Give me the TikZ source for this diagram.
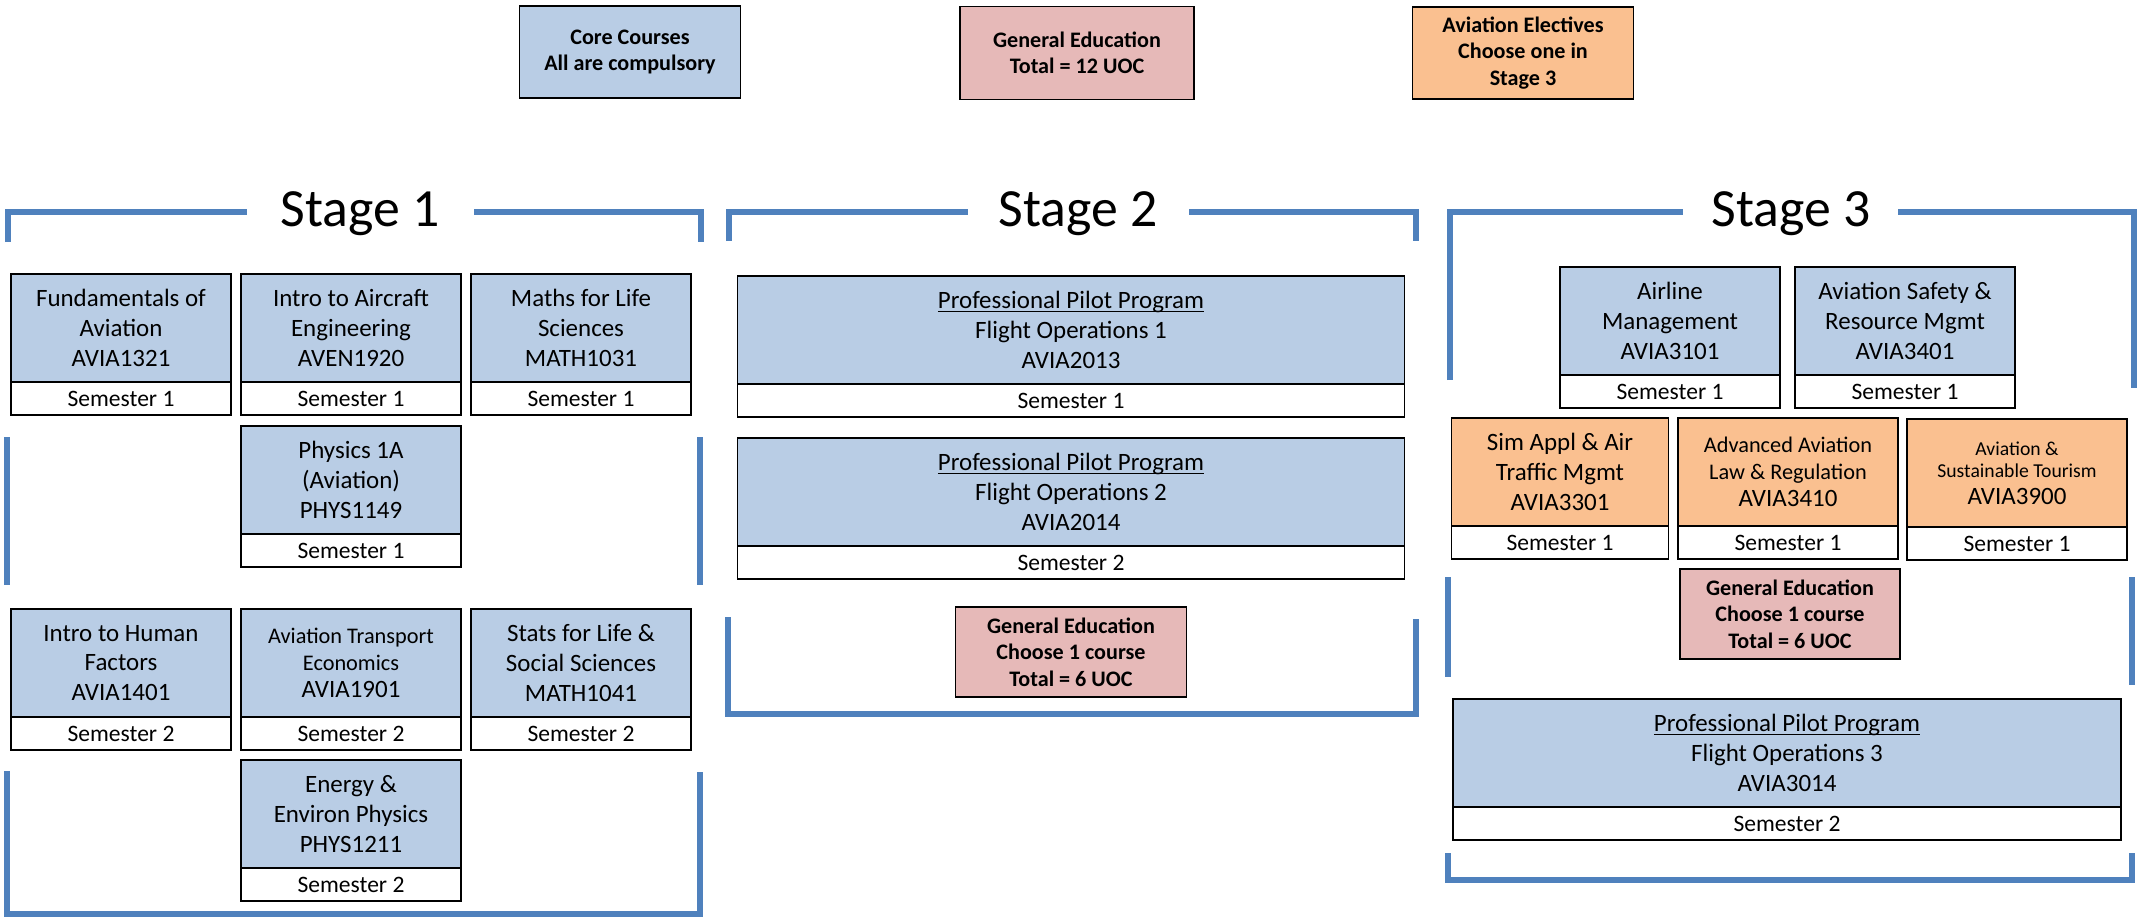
\documentclass[tikz,border=0pt]{standalone}
\usepackage{fontspec}
\setmainfont{Carlito}
\usetikzlibrary{positioning}

\definecolor{coreblue}{HTML}{B9CDE5}
\definecolor{genpink}{HTML}{E6B9B8}
\definecolor{electorange}{HTML}{FAC090}
\definecolor{bracketblue}{HTML}{4F81BD}

\newcommand{\coursefont}{\fontsize{14.2}{17}\selectfont}
\newcommand{\smallcourse}{\fontsize{12.7}{15.3}\selectfont}
\newcommand{\tinycourse}{\fontsize{11.2}{13}\selectfont}
\newcommand{\semfont}{\fontsize{13.4}{15}\selectfont}
\newcommand{\genfont}{\fontsize{12.6}{15}\selectfont\bfseries}
\newcommand{\titlefont}{\fontsize{30.6}{36}\selectfont}
% word-style underline, close to the baseline
\newcommand{\pppline}[1]{\setbox0\hbox{#1}\rlap{\rule[-1.7pt]{\wd0}{0.55pt}}\box0}

\tikzset{
  box/.style={draw, line width=1pt, align=center, inner sep=0pt, outer sep=0pt},
  core/.style={box, fill=coreblue, minimum width=4.4cm, minimum height=2.16cm, font=\coursefont},
  elective/.style={core, fill=electorange},
  sem/.style={box, fill=white, minimum width=#1, minimum height=0.66cm, font=\semfont},
  sem/.default=4.4cm,
  gened/.style={box, fill=genpink, minimum width=4.4cm, minimum height=1.8cm, font=\genfont},
  legend/.style={box, minimum width=4.42cm, minimum height=1.84cm, font=\genfont},
  bracket/.style={bracketblue, line width=3.3pt},
  stage/.style={font=\titlefont, anchor=base}
}

\begin{document}
\begin{tikzpicture}[x=0.02cm, y=-0.02cm]
  \useasboundingbox (0,0) rectangle (2140,917);

  % key
  \node[legend, fill=coreblue] (keycore) at (630,52) {Core Courses\\All are compulsory};
  \node[legend, fill=genpink, minimum width=4.68cm, minimum height=1.86cm] (keygen) at (1077,53) {General Education\\Total = 12 UOC};
  \node[legend, fill=electorange] (keyelect) at (1523,53) {Aviation Electives\\Choose one in\\Stage 3};

  % stage frames
  \node[stage] (st1) at (360,226) {Stage 1};
  \node[stage] (st2) at (1078,226) {Stage 2};
  \node[stage] (st3) at (1791,226) {Stage 3};
  \draw[bracket] (8,242) |- (247,212);
  \draw[bracket] (474,212) -| (701,242);
  \draw[bracket] (7,437) -- (7,585);
  \draw[bracket] (700,437) -- (700,585);
  \draw[bracket] (7,771) |- (700,914) -- (700,772);
  \draw[bracket] (729,241) |- (968,212);
  \draw[bracket] (1189,212) -| (1416,241);
  \draw[bracket] (728,617) |- (1416,714) -- (1416,619);
  \draw[bracket] (1450,380) |- (1683,212);
  \draw[bracket] (1898,212) -| (2134,388);
  \draw[bracket] (1448,577) -- (1448,677);
  \draw[bracket] (2132,577) -- (2132,685);
  \draw[bracket] (1448,853) |- (2132,880) -- (2132,853);

  % stage 1
  \node[core] (fund) at (121,328) {Fundamentals of\\Aviation\\AVIA1321};
  \node[sem, below=0pt of fund] (fund-sem) {Semester 1};
  \node[core] (aircraft) at (351,328) {Intro to Aircraft\\Engineering\\AVEN1920};
  \node[sem, below=0pt of aircraft] (aircraft-sem) {Semester 1};
  \node[core] (maths) at (581,328) {Maths for Life\\Sciences\\MATH1031};
  \node[sem, below=0pt of maths] (maths-sem) {Semester 1};
  \node[core] (phys) at (351,480) {Physics 1A\\(Aviation)\\PHYS1149};
  \node[sem, below=0pt of phys] (phys-sem) {Semester 1};
  \node[core] (human) at (121,663) {Intro to Human\\Factors\\AVIA1401};
  \node[sem, below=0pt of human] (human-sem) {Semester 2};
  \node[core, font=\smallcourse] (transport) at (351,663) {Aviation Transport\\Economics\\{\coursefont AVIA1901}};
  \node[sem, below=0pt of transport] (transport-sem) {Semester 2};
  \node[core] (stats) at (581,663) {Stats for Life \&\\Social Sciences\\MATH1041};
  \node[sem, below=0pt of stats] (stats-sem) {Semester 2};
  \node[core] (energy) at (351,814) {Energy \&\\Environ Physics\\PHYS1211};
  \node[sem, below=0pt of energy] (energy-sem) {Semester 2};

  % stage 2
  \node[core, minimum width=13.34cm] (ppp1) at (1071,330) {\pppline{Professional Pilot Program}\\Flight Operations 1\\AVIA2013};
  \node[sem=13.34cm, below=0pt of ppp1] (ppp1-sem) {Semester 1};
  \node[core, minimum width=13.34cm] (ppp2) at (1071,492) {\pppline{Professional Pilot Program}\\Flight Operations 2\\AVIA2014};
  \node[sem=13.34cm, below=0pt of ppp2] (ppp2-sem) {Semester 2};
  \node[gened, minimum width=4.62cm] (gen2) at (1071,652) {General Education\\Choose 1 course\\Total = 6 UOC};

  % stage 3
  \node[core] (airline) at (1670,321) {Airline\\Management\\AVIA3101};
  \node[sem, below=0pt of airline] (airline-sem) {Semester 1};
  \node[core] (safety) at (1905,321) {Aviation Safety \&\\Resource Mgmt\\AVIA3401};
  \node[sem, below=0pt of safety] (safety-sem) {Semester 1};
  \node[elective, minimum width=4.34cm] (sim) at (1560,472) {Sim Appl \& Air\\Traffic Mgmt\\AVIA3301};
  \node[sem=4.34cm, below=0pt of sim] (sim-sem) {Semester 1};
  \node[elective, font=\smallcourse] (law) at (1788,472) {Advanced Aviation\\Law \& Regulation\\{\coursefont AVIA3410}};
  \node[sem, below=0pt of law] (law-sem) {Semester 1};
  \node[elective, font=\tinycourse] (tourism) at (2017,473) {Aviation \&\\Sustainable Tourism\\[2pt]{\coursefont AVIA3900}};
  \node[sem, below=0pt of tourism] (tourism-sem) {Semester 1};
  \node[gened] (gen3) at (1790,614) {General Education\\Choose 1 course\\Total = 6 UOC};
  \node[core, minimum width=13.36cm] (ppp3) at (1787,753) {\pppline{Professional Pilot Program}\\Flight Operations 3\\AVIA3014};
  \node[sem=13.36cm, below=0pt of ppp3] (ppp3-sem) {Semester 2};
\end{tikzpicture}
\end{document}
